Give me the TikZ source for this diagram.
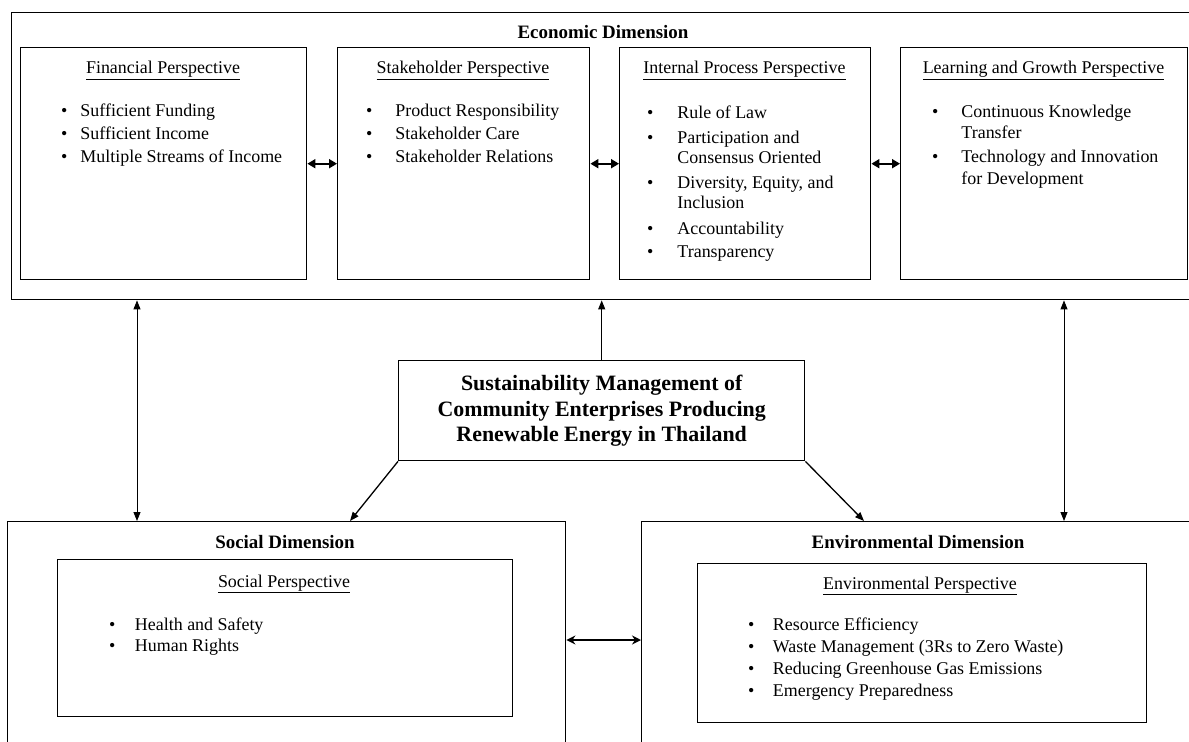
\documentclass[tikz,border=0pt]{standalone}
\usepackage{fontspec}
\setmainfont{Liberation Serif}
\usetikzlibrary{arrows.meta}
\begin{document}
\begin{tikzpicture}[x=1bp,y=-1bp,
  box/.style={draw, line width=1.4bp, inner sep=0, anchor=north west},
  dimlbl/.style={inner sep=0, anchor=base, font=\bfseries\fontsize{19}{23}\selectfont},
  hdr/.style={inner sep=0, anchor=base, font=\fontsize{18}{22}\selectfont},
  blist/.style={inner sep=0, anchor=base west},
  sdbl/.style={line width=1.8bp, {Triangle[length=8bp,width=9bp]}-{Triangle[length=8bp,width=9bp]}},
  vdbl/.style={line width=0.9bp, {Triangle[length=9bp,width=7bp]}-{Triangle[length=9bp,width=7bp]}},
  vone/.style={line width=0.9bp, -{Triangle[length=9bp,width=7bp]}},
  diag/.style={line width=1.3bp, -{Triangle[length=9bp,width=7bp]}},
  hdbl/.style={line width=1.8bp, {Stealth[length=9bp,width=9bp]}-{Stealth[length=9bp,width=9bp]}}
]
\useasboundingbox (0,0) rectangle (1189,742);
\clip (0,0) rectangle (1189,742);

% ---------- boxes ----------
\node[box, minimum width=1189bp, minimum height=287bp] (econ) at (11,12) {};
\node[box, minimum width=286bp, minimum height=232bp] (fin) at (20,47) {};
\node[box, minimum width=252bp, minimum height=232bp] (stake) at (337,47) {};
\node[box, minimum width=251bp, minimum height=232bp] (intp) at (619,47) {};
\node[box, minimum width=287bp, minimum height=232bp] (learn) at (900,47) {};
\node[box, minimum width=406bp, minimum height=100bp, align=center,
      font=\bfseries\fontsize{22}{26}\selectfont] (center) at (398,360)
  {Sustainability Management of\\Community Enterprises Producing\\Renewable Energy in Thailand};
\node[box, minimum width=558bp, minimum height=260bp] (social) at (7,521) {};
\node[box, minimum width=600bp, minimum height=260bp] (env) at (641,521) {};
\node[box, minimum width=455bp, minimum height=157bp] (sinner) at (57,559) {};
\node[box, minimum width=449bp, minimum height=159bp] (einner) at (697,563) {};

% ---------- titles ----------
\node[dimlbl] (econT) at (603,39) {Economic Dimension};
\node[dimlbl] (socT) at (285,548) {Social Dimension};
\node[dimlbl] (envT) at (918,548) {Environmental Dimension};

\node[hdr] (finH) at (163,74) {\underline{Financial Perspective}};
\node[hdr] (stakeH) at (463,74) {\underline{Stakeholder Perspective}};
\node[hdr] (intpH) at (744.5,74) {\underline{Internal Process Perspective}};
\node[hdr] (learnH) at (1043.5,74) {\underline{Learning and Growth Perspective}};
\node[hdr] (socH) at (284,587) {\underline{Social Perspective}};
\node[hdr] (envH) at (920,589) {\underline{Environmental Perspective}};

% ---------- bullet lists ----------
\node[blist, font=\fontsize{18}{23}\selectfont] (finL) at (61,117)
 {\begin{tabular}[t]{@{}l@{\hspace{13bp}}l@{}}
  \textbullet & Sufficient Funding\\
  \textbullet & Sufficient Income\\
  \textbullet & Multiple Streams of Income
 \end{tabular}};
\node[blist, font=\fontsize{18}{23}\selectfont] (stakeL) at (366,117)
 {\begin{tabular}[t]{@{}l@{\hspace{23bp}}l@{}}
  \textbullet & Product Responsibility\\
  \textbullet & Stakeholder Care\\
  \textbullet & Stakeholder Relations
 \end{tabular}};
\node[blist, font=\fontsize{18}{20}\selectfont] (intpL) at (647,118.5)
 {\begin{tabular}[t]{@{}l@{\hspace{24bp}}l@{}}
  \textbullet & Rule of Law\\[5bp]
  \textbullet & Participation and\\
              & Consensus Oriented\\[5bp]
  \textbullet & Diversity, Equity, and\\
              & Inclusion\\[6bp]
  \textbullet & Accountability\\[3bp]
  \textbullet & Transparency
 \end{tabular}};
\node[blist, font=\fontsize{18}{21.5}\selectfont] (learnL) at (932,117.5)
 {\begin{tabular}[t]{@{}l@{\hspace{23bp}}l@{}}
  \textbullet & Continuous Knowledge\\
              & Transfer\\[2.5bp]
  \textbullet & Technology and Innovation\\
              & for Development
 \end{tabular}};
\node[blist, font=\fontsize{18}{22}\selectfont] (socL) at (109,630)
 {\begin{tabular}[t]{@{}l@{\hspace{19.5bp}}l@{}}
  \textbullet & Health and Safety\\
  \textbullet & Human Rights
 \end{tabular}};
\node[blist, font=\fontsize{18}{22.3}\selectfont] (envL) at (748,630)
 {\begin{tabular}[t]{@{}l@{\hspace{18.5bp}}l@{}}
  \textbullet & Resource Efficiency\\
  \textbullet & Waste Management (3Rs to Zero Waste)\\
  \textbullet & Reducing Greenhouse Gas Emissions\\
  \textbullet & Emergency Preparedness
 \end{tabular}};

% ---------- connectors ----------
\coordinate (lx) at (137,0);
\coordinate (rx) at (1064,0);
\coordinate (sdx) at (350,0);
\coordinate (edx) at (864,0);
\coordinate (sey) at (0,640);

\draw[sdbl] (fin.east) -- (stake.west);
\draw[sdbl] (stake.east) -- (intp.west);
\draw[sdbl] (intp.east) -- (learn.west);
\draw[vdbl] (lx |- econ.south) -- (lx |- social.north);
\draw[vdbl] (rx |- econ.south) -- (rx |- env.north);
\draw[vone] (center.north) -- (center.north |- econ.south);
\draw[diag] (center.south west) -- (sdx |- social.north);
\draw[diag] (center.south east) -- (edx |- env.north);
\draw[hdbl] (social.east |- sey) -- (env.west |- sey);
\end{tikzpicture}
\end{document}
